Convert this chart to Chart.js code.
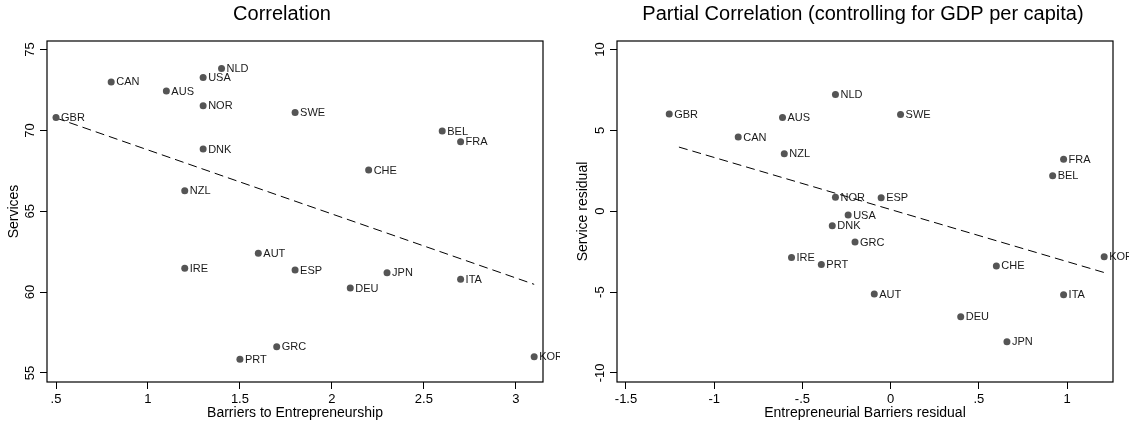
<!DOCTYPE html>
<html>
<head>
<meta charset="utf-8">
<title>Services vs barriers to entrepreneurship</title>
<script src="https://cdn.jsdelivr.net/npm/chart.js@4"></script>
<style>
    body { margin: 0; background: #fff; }
    #wrap { position: relative; width: 1129px; height: 428px; overflow: hidden; }
    canvas { position: absolute; top: 0; }
    #leftChart { left: 0; }
    #rightChart { left: 560px; }
</style>
</head>
<body>
<div id="wrap">
    <canvas id="leftChart" width="560" height="428"></canvas>
    <canvas id="rightChart" width="569" height="428"></canvas>
</div>
<script>
// country codes, same order in both panels
const countries = ['GBR', 'CAN', 'AUS', 'USA', 'NLD', 'NOR', 'SWE', 'DNK', 'NZL', 'BEL', 'FRA',
    'CHE', 'AUT', 'IRE', 'ESP', 'JPN', 'ITA', 'DEU', 'GRC', 'PRT', 'KOR'];

// left panel: barriers to entrepreneurship vs services share
const barriers = [0.5, 0.8, 1.1, 1.3, 1.4, 1.3, 1.8, 1.3, 1.2, 2.6, 2.7,
    2.2, 1.6, 1.2, 1.8, 2.3, 2.7, 2.1, 1.7, 1.5, 3.1];
const services = [70.8, 73.0, 72.43, 73.27, 73.83, 71.52, 71.11, 68.85, 66.27, 69.96, 69.3,
    67.55, 62.41, 61.48, 61.36, 61.19, 60.8, 60.25, 56.62, 55.84, 56.0];
const fitLeftX = [0.5, 3.1];
const fitLeftY = [70.77, 60.48];

// right panel: residuals after controlling for GDP per capita
const barriersResid = [-1.255, -0.864, -0.613, -0.241, -0.313, -0.313, 0.056, -0.331, -0.603, 0.918, 0.98,
    0.599, -0.093, -0.562, -0.054, 0.659, 0.98, 0.397, -0.202, -0.393, 1.21];
const servicesResid = [6.01, 4.59, 5.8, -0.23, 7.22, 0.86, 5.99, -0.89, 3.56, 2.2, 3.21,
    -3.38, -5.12, -2.86, 0.84, -8.07, -5.17, -6.52, -1.9, -3.3, -2.82];
const fitRightX = [-1.2, 1.21];
const fitRightY = [3.97, -3.79];

// tick values + the stata style labels (no leading zero)
const leftXTicks = [0.5, 1, 1.5, 2, 2.5, 3];
const leftXLabels = ['.5', '1', '1.5', '2', '2.5', '3'];
const leftYTicks = [55, 60, 65, 70, 75];
const leftYLabels = ['55', '60', '65', '70', '75'];
const rightXTicks = [-1.5, -1, -0.5, 0, 0.5, 1];
const rightXLabels = ['-1.5', '-1', '-.5', '0', '.5', '1'];
const rightYTicks = [-10, -5, 0, 5, 10];
const rightYLabels = ['-10', '-5', '0', '5', '10'];

const FONT = "'Liberation Sans', Arial, Helvetica, sans-serif";

// draws the country code to the right of each marker
const markerLabels = {
    id: 'markerLabels',
    afterDatasetsDraw(chart) {
        const ctx = chart.ctx;
        const meta = chart.getDatasetMeta(0);
        ctx.save();
        ctx.font = '11px ' + FONT;
        ctx.fillStyle = '#1a1a1a';
        ctx.textAlign = 'left';
        ctx.textBaseline = 'middle';
        meta.data.forEach(function(pt, i) {
            ctx.fillText(countries[i], pt.x + 5, pt.y + 0.5);
        });
        ctx.restore();
    }
};

// box round the plot region + the panel title
const frameAndTitle = {
    id: 'frameAndTitle',
    afterDraw(chart, args, opts) {
        const ctx = chart.ctx;
        const a = chart.chartArea;
        ctx.save();
        ctx.strokeStyle = '#000';
        ctx.lineWidth = 1.2;
        ctx.strokeRect(Math.round(a.left), Math.round(a.top), Math.round(a.right - a.left), Math.round(a.bottom - a.top));
        ctx.font = '20px ' + FONT;
        ctx.fillStyle = '#000';
        ctx.textAlign = 'center';
        ctx.textBaseline = 'middle';
        ctx.fillText(opts.text, opts.x, opts.y);
        ctx.restore();
    }
};

function makeAxis(ticks, labels, min, max, title, isY, yWidth, titlePad, tickPad) {
    const axis = {
        type: 'linear',
        min: min,
        max: max,
        border: { display: false },
        grid: { drawOnChartArea: false, drawTicks: true, tickLength: 7, color: '#000', lineWidth: 1 },
        afterBuildTicks: function(scale) {
            scale.ticks = ticks.map(v => ({ value: v }));
        },
        ticks: {
            autoSkip: false,
            color: '#000',
            font: { family: FONT, size: 13 },
            padding: tickPad,
            callback: function(value, index) { return labels[index]; }
        },
        title: {
            display: true,
            text: title,
            color: '#000',
            font: { family: FONT, size: 14 },
            padding: isY ? { top: titlePad, bottom: 0 } : { top: 0, bottom: titlePad }
        }
    };
    if (isY) {
        axis.ticks.minRotation = 90;
        axis.ticks.maxRotation = 90;
        axis.ticks.crossAlign = 'center';
        axis.afterFit = function(scale) { scale.width = yWidth; };
    } else {
        axis.ticks.minRotation = 0;
        axis.ticks.maxRotation = 0;
        axis.afterFit = function(scale) { scale.height = 46; };
    }
    return axis;
}

function toPoints(xs, ys) {
    return xs.map((x, i) => ({ x: x, y: ys[i] }));
}

function createPanel(canvasId, xs, ys, fitX, fitY, opts) {
    const ctx = document.getElementById(canvasId).getContext('2d');
    return new Chart(ctx, {
        type: 'scatter',
        data: {
            datasets: [{
                label: 'countries',
                data: toPoints(xs, ys),
                backgroundColor: '#555555',
                borderWidth: 0,
                pointRadius: 3.5,
                pointHoverRadius: 3.5
            }, {
                type: 'line',
                label: 'fit',
                data: toPoints(fitX, fitY),
                borderColor: '#000',
                borderWidth: 1,
                borderDash: [9, 5],
                pointRadius: 0,
                fill: false
            }]
        },
        options: {
            responsive: false,
            animation: false,
            layout: { padding: { left: 0, top: 41, right: opts.padRight, bottom: 0 } },
            plugins: {
                legend: { display: false },
                tooltip: { enabled: false },
                frameAndTitle: { text: opts.title, x: opts.titleX, y: 14 }
            },
            scales: {
                x: makeAxis(opts.xTicks, opts.xLabels, opts.xMin, opts.xMax, opts.xTitle, false, 0, 6, 3),
                y: makeAxis(opts.yTicks, opts.yLabels, opts.yMin, opts.yMax, opts.yTitle, true, opts.yWidth, opts.yTitlePad, opts.yTickPad)
            }
        },
        plugins: [markerLabels, frameAndTitle]
    });
}

createPanel('leftChart', barriers, services, fitLeftX, fitLeftY, {
    title: 'Correlation', titleX: 282,
    xTicks: leftXTicks, xLabels: leftXLabels, xMin: 0.451, xMax: 3.148, xTitle: 'Barriers to Entrepreneurship',
    yTicks: leftYTicks, yLabels: leftYLabels, yMin: 54.44, yMax: 75.53, yTitle: 'Services',
    yWidth: 47, yTitlePad: 6, yTickPad: 2, padRight: 17
});

createPanel('rightChart', barriersResid, servicesResid, fitRightX, fitRightY, {
    title: 'Partial Correlation (controlling for GDP per capita)', titleX: 303,
    xTicks: rightXTicks, xLabels: rightXLabels, xMin: -1.551, xMax: 1.26, xTitle: 'Entrepreneurial Barriers residual',
    yTicks: rightYTicks, yLabels: rightYLabels, yMin: -10.56, yMax: 10.53, yTitle: 'Service residual',
    yWidth: 57, yTitlePad: 15, yTickPad: 0, padRight: 16
});
</script>
</body>
</html>
